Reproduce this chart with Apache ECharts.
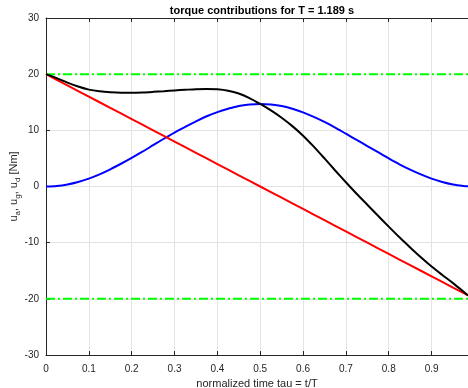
<!DOCTYPE html>
<html>
<head>
<meta charset="utf-8">
<script src="https://cdn.jsdelivr.net/npm/echarts@6/dist/echarts.min.js"></script>
<style>html,body{margin:0;padding:0;background:#fff}#c{width:468px;height:388px}</style>
</head>
<body>
<div id="c"></div>
<script>
const tau = [0,0.025,0.05,0.075,0.1,0.125,0.15,0.175,0.2,0.225,0.25,0.275,0.3,0.325,0.35,0.375,0.4,0.425,0.45,0.475,0.5,0.525,0.55,0.575,0.6,0.625,0.65,0.675,0.7,0.725,0.75,0.775,0.8,0.825,0.85,0.875,0.9,0.925,0.95,0.975,0.985];
const uA = [20,19,18,17,16,15,14,13,12,11,10,9,8,7,6,5,4,3,2,1,0,-1,-2,-3,-4,-5,-6,-7,-8,-9,-10,-11,-12,-13,-14,-15,-16,-17,-18,-19,-19.4];
const uG = [0,0.09,0.36,0.8,1.4,2.15,3.05,4.05,5.1,6.2,7.35,8.5,9.6,10.6,11.6,12.5,13.25,13.85,14.35,14.6,14.7,14.6,14.35,13.85,13.2,12.4,11.5,10.5,9.4,8.3,7.2,6.1,5.0,3.95,3.0,2.15,1.4,0.8,0.36,0.09,0.03];
const uTot = [20,19.3,18.5,17.8,17.25,16.95,16.78,16.7,16.7,16.75,16.85,16.97,17.1,17.22,17.33,17.38,17.3,17.05,16.55,15.75,14.7,13.55,12.25,10.75,9.05,7.1,5.0,2.85,0.75,-1.3,-3.25,-5.2,-7.15,-9.05,-10.85,-12.6,-14.25,-15.75,-17.2,-18.75,-19.4];
const limTau = [0,0.985];
const uMax = [20,20];
const uMin = [-20,-20];
const xTicks = ['0','0.1','0.2','0.3','0.4','0.5','0.6','0.7','0.8','0.9'];
const yTicks = ['-30','-20','-10','0','10','20','30'];

const pairs = (xs, ys) => xs.map((x, i) => [x, ys[i]]);
const font = 'Liberation Sans, Arial, Helvetica, sans-serif';
const axisCol = '#262626';
const chart = echarts.init(document.getElementById('c'), null, {renderer: 'canvas'});
const dashDot = [9, 3, 2, 3];
chart.setOption({
  animation: false,
  backgroundColor: '#fff',
  title: {
    text: 'torque contributions for T = 1.189 s',
    left: 257, top: 0, textAlign: 'center',
    textStyle: {fontFamily: font, fontSize: 11, fontWeight: 'bold', color: '#000'}
  },
  grid: {left: 46, right: 0, top: 18, bottom: 33, containLabel: false, outerBoundsMode: 'none'},
  xAxis: [{
    type: 'value', min: 0, max: 0.985, interval: 0.1,
    axisLine: {show: true, onZero: false, lineStyle: {color: axisCol, width: 1}},
    axisTick: {show: true, inside: true, length: 4, lineStyle: {color: axisCol}},
    axisLabel: {showMaxLabel: false, color: axisCol, fontFamily: font, fontSize: 10, margin: 9,
      formatter: v => { const i = Math.round(v * 10); return (Math.abs(v * 10 - i) < 1e-6 && i < xTicks.length) ? xTicks[i] : ''; }},
    splitLine: {show: true, lineStyle: {color: '#e3e3e3', width: 1}},
    name: 'normalized time tau = t/T', nameLocation: 'middle', nameGap: 23,
    nameTextStyle: {fontFamily: font, fontSize: 11, color: axisCol}
  }, {
    type: 'value', min: 0, max: 0.985, interval: 0.1, position: 'top',
    axisLine: {show: true, onZero: false, lineStyle: {color: axisCol, width: 1}},
    axisTick: {show: true, inside: true, length: 4, lineStyle: {color: axisCol}},
    axisLabel: {show: false}, splitLine: {show: false}
  }],
  yAxis: [{
    type: 'value', min: -30, max: 30, interval: 10,
    axisLine: {show: true, onZero: false, lineStyle: {color: axisCol, width: 1}},
    axisTick: {show: true, inside: true, length: 4, lineStyle: {color: axisCol}},
    axisLabel: {color: axisCol, fontFamily: font, fontSize: 10, margin: 7,
      formatter: v => { const i = Math.round((v + 30) / 10); return yTicks[i] || ''; }},
    splitLine: {show: true, lineStyle: {color: '#e3e3e3', width: 1}},
    name: '{b|u}{s|a}{b|, u}{s|g}{b|, u}{s|d}{b| [Nm]}',
    nameLocation: 'middle', nameRotate: 90, nameGap: 24, nameMoveOverlap: false,
    nameTextStyle: {
      fontFamily: font, fontSize: 11, color: axisCol,
      rich: {
        b: {fontSize: 11, fontFamily: font, color: axisCol, lineHeight: 16, verticalAlign: 'middle'},
        s: {fontSize: 8, fontFamily: font, color: axisCol, lineHeight: 16, verticalAlign: 'bottom'}
      }
    }
  }],
  series: [
    {type: 'line', data: pairs(limTau, uMax), symbol: 'none', lineStyle: {color: '#00ff00', width: 2, type: dashDot}},
    {type: 'line', data: pairs(limTau, uMin), symbol: 'none', lineStyle: {color: '#00ff00', width: 2, type: dashDot}},
    {type: 'line', data: pairs(tau, uG), symbol: 'none', smooth: 0.3, lineStyle: {color: '#0000ff', width: 2}},
    {type: 'line', data: pairs(tau, uA), symbol: 'none', lineStyle: {color: '#ff0000', width: 2}},
    {type: 'line', data: pairs(tau, uTot), symbol: 'none', smooth: 0.3, lineStyle: {color: '#000000', width: 2}}
  ]
});
</script>
</body>
</html>
